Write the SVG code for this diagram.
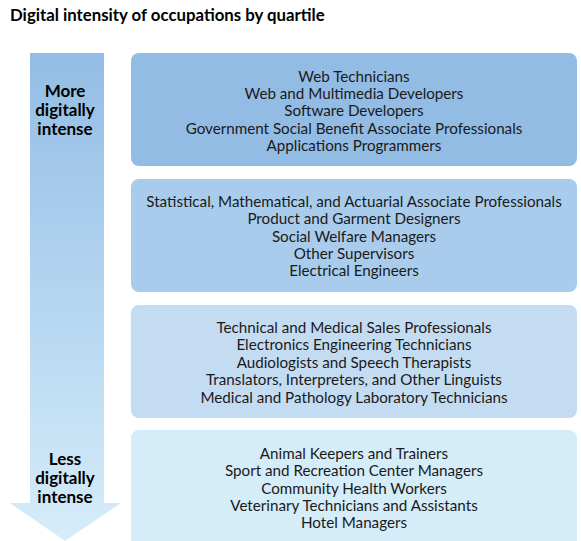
<svg xmlns="http://www.w3.org/2000/svg" width="581" height="541" viewBox="0 0 581 541">
<style>
.t{font-family:"Lato","Noto Sans","Liberation Sans",sans-serif;font-size:15.2px;fill:#1a1a1a;text-anchor:middle}
.b{font-family:"Lato","Noto Sans","Liberation Sans",sans-serif;font-size:16.8px;font-weight:bold;fill:#000}
.a{font-family:"Lato","Noto Sans","Liberation Sans",sans-serif;font-size:17px;font-weight:bold;fill:#000;text-anchor:middle}
</style>
<defs>
<linearGradient id="g" x1="0" y1="0" x2="0" y2="1">
<stop offset="0" stop-color="#93BDE5"/>
<stop offset="1" stop-color="#D6EDFA"/>
</linearGradient>
</defs>
<rect width="581" height="541" fill="#fff"/>
<text class="b" x="10" y="21">Digital intensity of occupations by quartile</text>
<g id="arrow">
<polygon points="30,53 104,53 104,503 121,503 65,541 10,503 30,503" fill="url(#g)"/>
<text class="a" x="65" y="97">More</text>
<text class="a" x="65" y="116">digitally</text>
<text class="a" x="65" y="135">intense</text>
<text class="a" x="65" y="465">Less</text>
<text class="a" x="65" y="484">digitally</text>
<text class="a" x="65" y="503">intense</text>
</g>
<g id="q1">
<rect x="131" y="53" width="446" height="113" rx="8" fill="#93BCE4"/>
<text class="t" x="354" y="82">Web Technicians</text>
<text class="t" x="354" y="99">Web and Multimedia Developers</text>
<text class="t" x="354" y="116">Software Developers</text>
<text class="t" x="354" y="134">Government Social Benefit Associate Professionals</text>
<text class="t" x="354" y="151">Applications Programmers</text>
</g>
<g id="q2">
<rect x="131" y="179" width="446" height="113" rx="8" fill="#A9CCEC"/>
<text class="t" x="354" y="207">Statistical, Mathematical, and Actuarial Associate Professionals</text>
<text class="t" x="354" y="224">Product and Garment Designers</text>
<text class="t" x="354" y="242">Social Welfare Managers</text>
<text class="t" x="354" y="259">Other Supervisors</text>
<text class="t" x="354" y="276">Electrical Engineers</text>
</g>
<g id="q3">
<rect x="131" y="305" width="446" height="113" rx="8" fill="#C4DCF2"/>
<text class="t" x="354" y="333">Technical and Medical Sales Professionals</text>
<text class="t" x="354" y="350">Electronics Engineering Technicians</text>
<text class="t" x="354" y="368">Audiologists and Speech Therapists</text>
<text class="t" x="354" y="385">Translators, Interpreters, and Other Linguists</text>
<text class="t" x="354" y="403">Medical and Pathology Laboratory Technicians</text>
</g>
<g id="q4">
<rect x="131" y="430" width="446" height="120" rx="8" fill="#D5ECF9"/>
<text class="t" x="354" y="459">Animal Keepers and Trainers</text>
<text class="t" x="354" y="476">Sport and Recreation Center Managers</text>
<text class="t" x="354" y="494">Community Health Workers</text>
<text class="t" x="354" y="511">Veterinary Technicians and Assistants</text>
<text class="t" x="354" y="528">Hotel Managers</text>
</g>
</svg>
